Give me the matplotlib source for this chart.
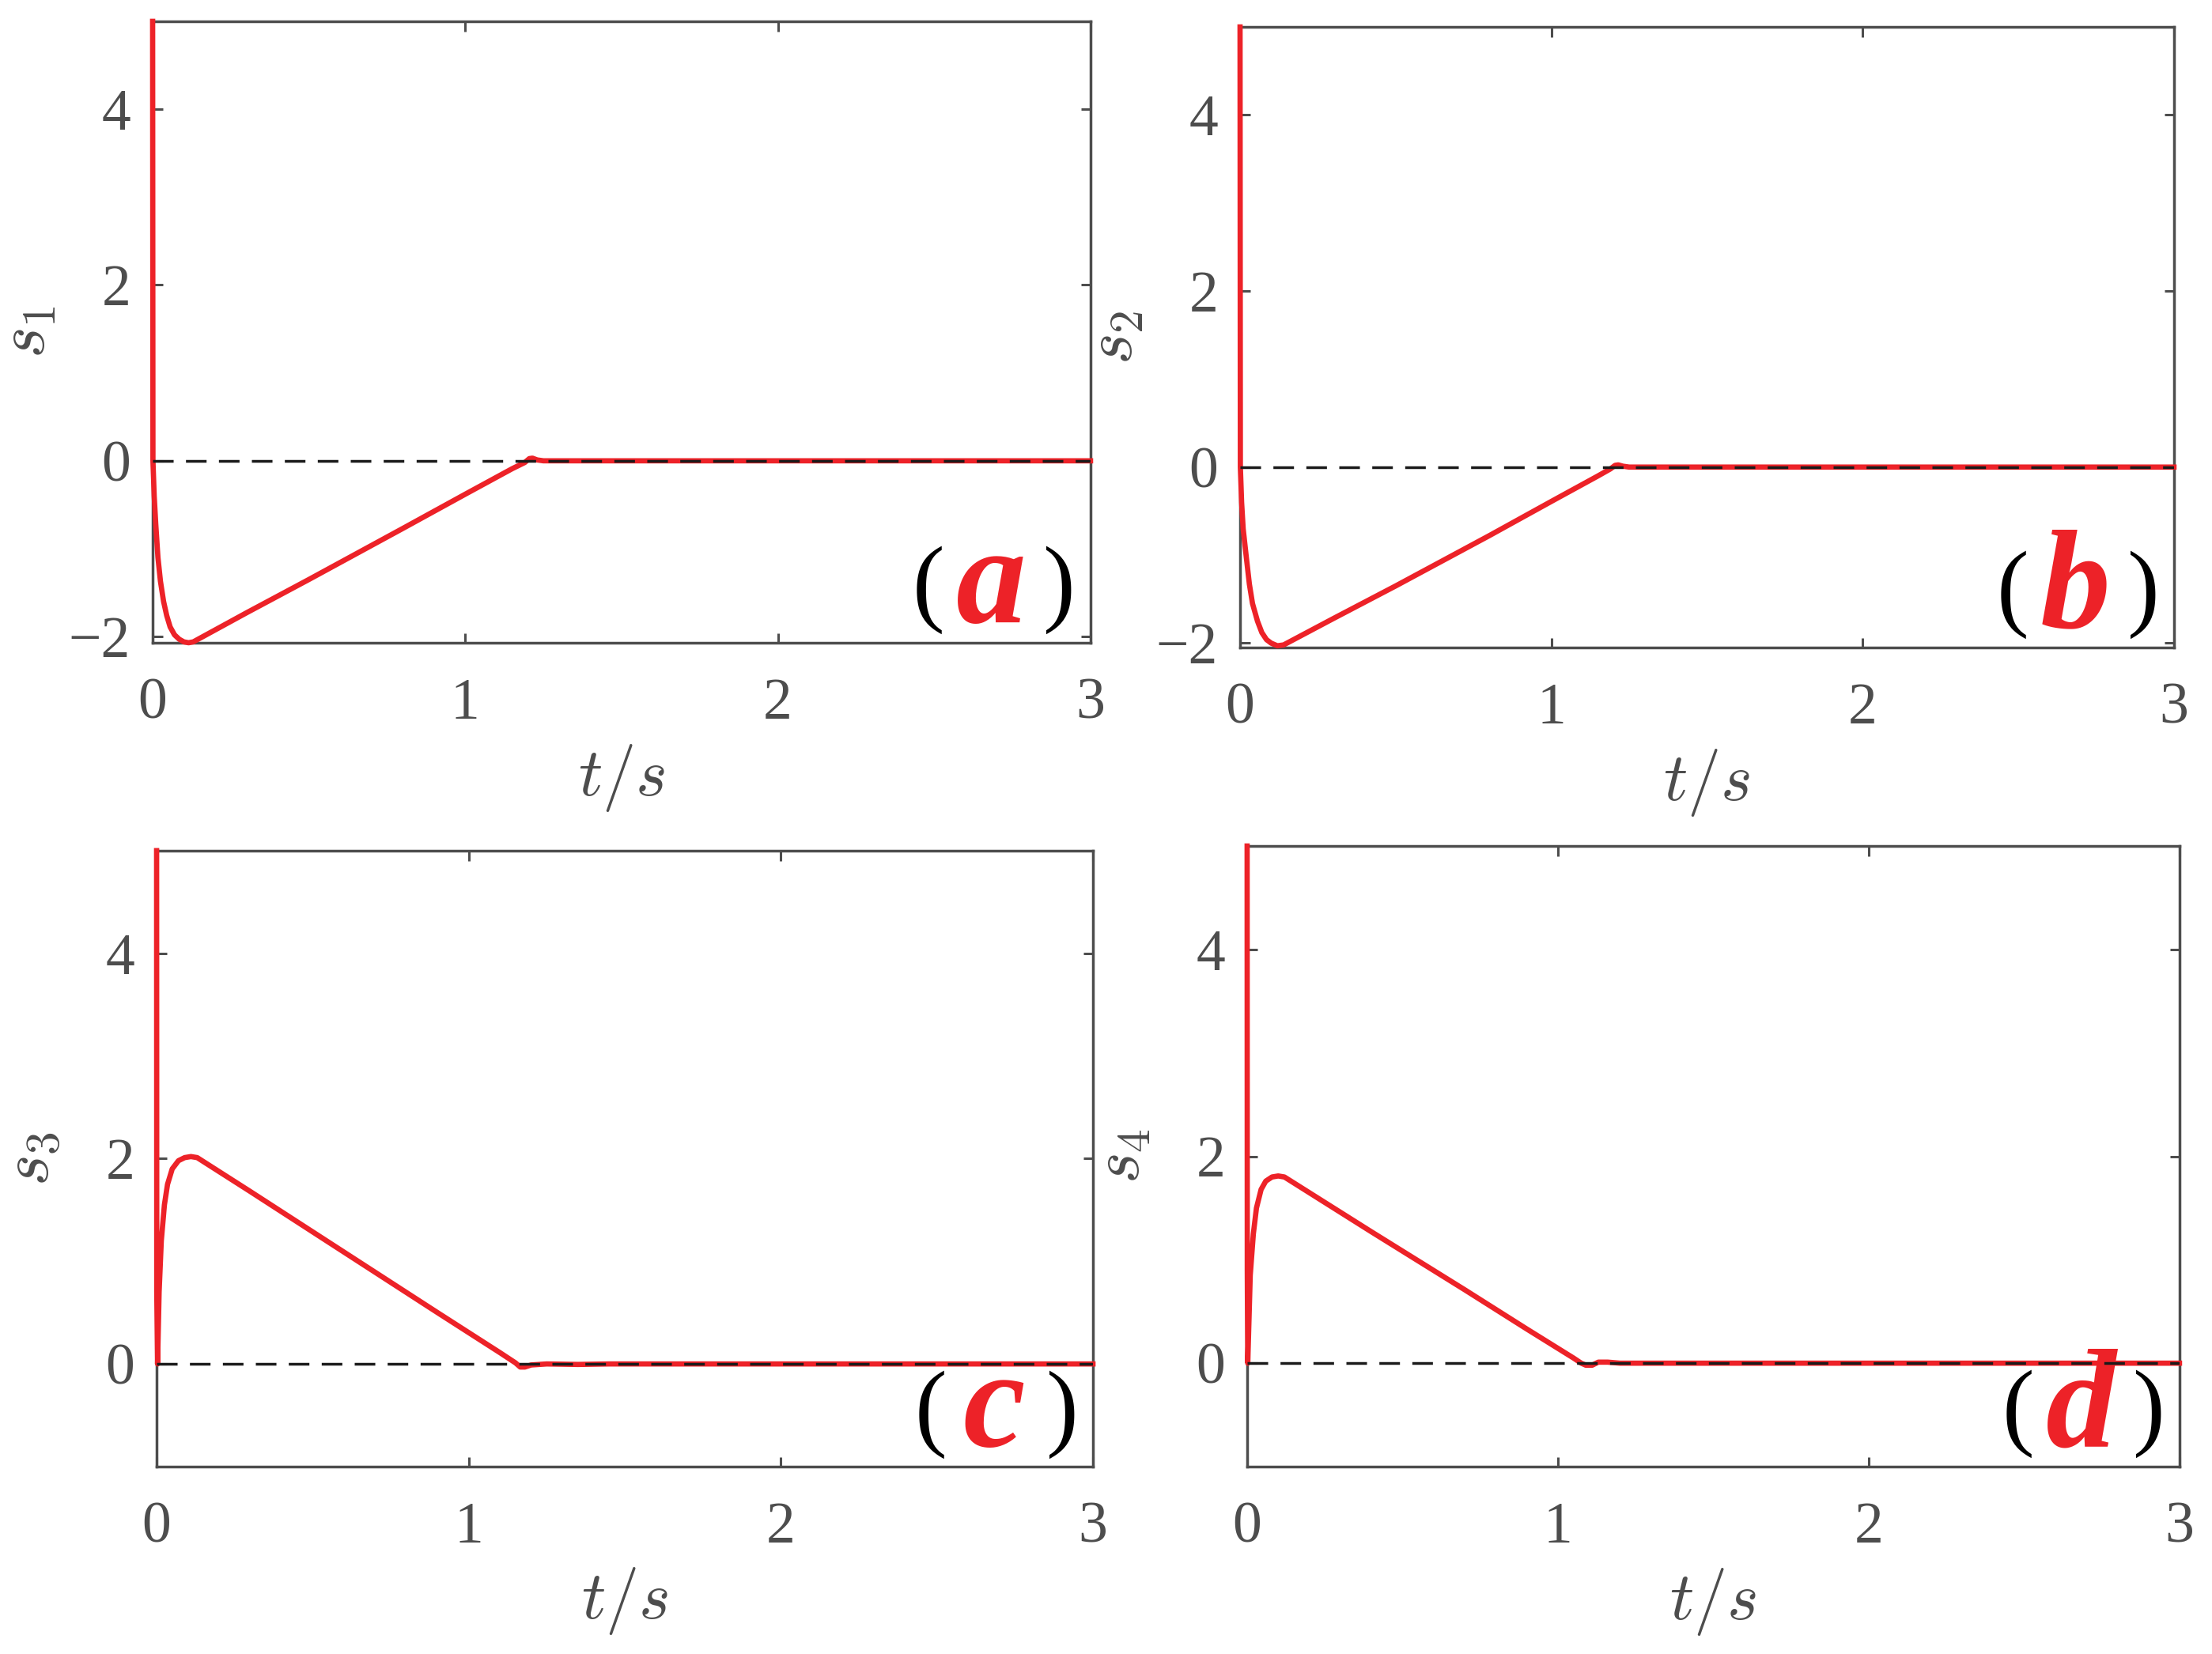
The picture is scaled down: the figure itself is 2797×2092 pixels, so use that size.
import numpy as np
import matplotlib.pyplot as plt

# Datos: variable deslizante s_i frente al tiempo t
t_s1 = [0.0, 0.001, 0.005, 0.01, 0.017, 0.025, 0.035, 0.045, 0.056, 0.07, 0.085, 0.1, 0.115, 0.13,
        0.3, 0.5, 0.8, 1.0, 1.15, 1.19, 1.205, 1.215, 1.23, 1.25, 1.5, 3.0]
s1 = [5.0, 0.0, -0.4, -0.72, -1.1, -1.37, -1.6, -1.76, -1.89, -1.98, -2.03, -2.06, -2.07, -2.06,
      -1.73, -1.35, -0.77, -0.38, -0.09, -0.02, 0.025, 0.03, 0.01, 0.0, 0.0, 0.0]

t_s2 = [0.0, 0.001, 0.005, 0.01, 0.02, 0.03, 0.04, 0.056, 0.07, 0.085, 0.1, 0.12, 0.14,
        0.3, 0.5, 0.8, 1.0, 1.15, 1.19, 1.205, 1.215, 1.23, 1.25, 1.5, 3.0]
s2 = [5.0, 0.0, -0.4, -0.7, -1.02, -1.33, -1.55, -1.75, -1.88, -1.96, -2.0, -2.03, -2.02,
      -1.72, -1.35, -0.78, -0.39, -0.1, -0.02, 0.02, 0.025, 0.01, 0.0, 0.0, 0.0]

t_s3 = [0.0, 0.0005, 0.003, 0.008, 0.015, 0.025, 0.035, 0.05, 0.07, 0.09, 0.11, 0.13,
        0.3, 0.6, 0.9, 1.1, 1.15, 1.165, 1.18, 1.2, 1.25, 1.35, 1.45, 3.0]
s3 = [5.0, 0.7, 0.0, 0.7, 1.2, 1.55, 1.75, 1.9, 1.98, 2.01, 2.02, 2.01,
      1.68, 1.09, 0.5, 0.11, 0.01, -0.03, -0.03, -0.01, 0.0, -0.005, 0.0, 0.0]

t_s4 = [0.0, 0.0005, 0.002, 0.01, 0.02, 0.03, 0.045, 0.06, 0.08, 0.1, 0.12,
        0.4, 0.7, 0.9, 1.05, 1.075, 1.09, 1.11, 1.13, 1.16, 1.2, 3.0]
s4 = [5.0, 0.9, 0.0, 0.85, 1.25, 1.5, 1.68, 1.76, 1.8, 1.81, 1.80,
      1.27, 0.71, 0.33, 0.05, 0.0, -0.02, -0.02, 0.01, 0.01, 0.0, 0.0]

series = [(t_s1, s1), (t_s2, s2), (t_s3, s3), (t_s4, s4)]
ylabels = [r'$s_1$', r'$s_2$', r'$s_3$', r'$s_4$']
letters = ['a', 'b', 'c', 'd']
ylims = [(-2.07, 5), (-2.05, 5), (-1, 5), (-1, 5)]
xticks = [0, 1, 2, 3]
yticks = [-2, 0, 2, 4]

# Posiciones de los ejes (fracción de la figura)
posiciones = [
    [0.0690, 0.6114, 0.4240, 0.3757],
    [0.5606, 0.6085, 0.4222, 0.3752],
    [0.0708, 0.1133, 0.4233, 0.3724],
    [0.5638, 0.1133, 0.4215, 0.3752],
]

gris = '#4d4d4d'
rojo = '#ed2228'

plt.rcParams['mathtext.fontset'] = 'cm'
plt.rcParams['font.family'] = 'serif'
plt.rcParams['font.serif'] = ['Liberation Serif', 'DejaVu Serif']

fig = plt.figure(figsize=(27.97, 20.92), dpi=100)

for i in range(4):
    ax = fig.add_axes(posiciones[i])
    t, s = series[i]
    ax.plot(t, s, color=rojo, lw=4.8, zorder=3, clip_on=False, solid_joinstyle='round')
    ax.plot([0, 3], [0, 0], color='#1a1a1a', lw=2.5, dashes=(7.5, 4.5), zorder=4)
    ax.set_xlim(0, 3)
    ax.set_ylim(*ylims[i])
    ax.set_xticks(xticks)
    ax.set_yticks([y for y in yticks if y >= ylims[i][0] - 0.01])
    ax.tick_params(direction='in', length=9, width=2.2, top=True, right=True,
                   labelsize=53, colors=gris)
    ax.tick_params(axis='x', pad=32)
    ax.tick_params(axis='y', pad=20)
    for sp in ax.spines.values():
        sp.set_linewidth(2.5)
        sp.set_color(gris)
    ax.set_xlabel(r'$t/s$', fontsize=61, color=gris)
    ax.xaxis.set_label_coords(0.5, -0.16)
    ax.set_ylabel(ylabels[i], fontsize=61, color=gris)
    ax.yaxis.set_label_coords(-0.1, 0.5)

    # Etiqueta del panel: ( a )
    ax.text(0.827, 0.085, '(', transform=ax.transAxes, fontsize=88, color='black',
            ha='center', va='center')
    ax.text(0.967, 0.085, ')', transform=ax.transAxes, fontsize=88, color='black',
            ha='center', va='center')
    ax.text(0.894, 0.033, letters[i], transform=ax.transAxes, fontsize=128, color=rojo,
            ha='center', va='baseline', fontweight='bold', fontstyle='italic')

fig.savefig('out.png', dpi=100)
